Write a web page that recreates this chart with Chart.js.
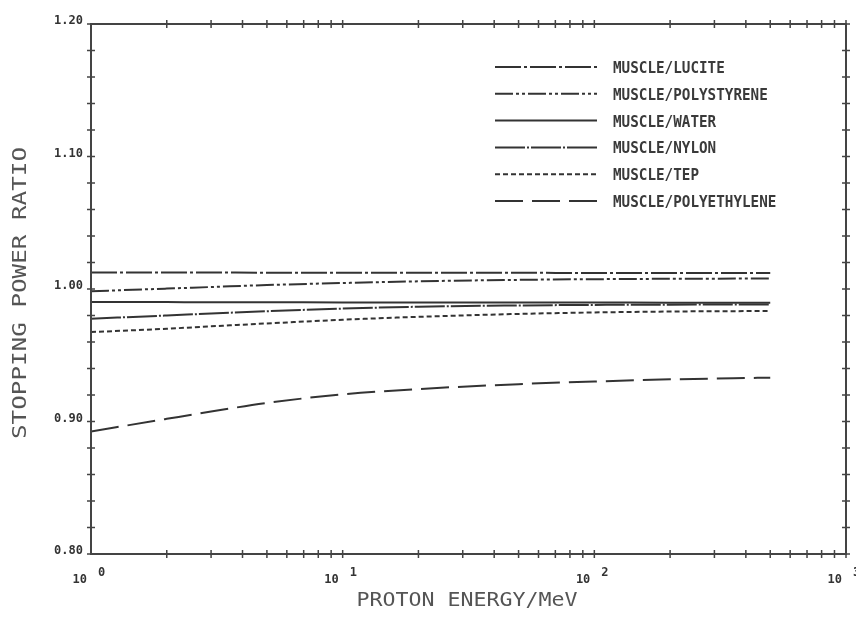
<!DOCTYPE html>
<html>
<head>
<meta charset="utf-8">
<script src="https://cdn.jsdelivr.net/npm/chart.js@4.4.0/dist/chart.umd.min.js"></script>
<style>
html, body { margin: 0; padding: 0; background: #fff; }
#wrap { width: 856px; height: 621px; }
</style>
</head>
<body>
<div id="wrap"><canvas id="spChart" width="856" height="621"></canvas></div>
<script>
// proton energy (MeV) and stopping power ratios
const energies = [1, 2, 3, 5, 10, 20, 50, 100, 200, 500];
const lucite = [1.0124, 1.0124, 1.0124, 1.0123, 1.0123, 1.0122, 1.0122, 1.0121, 1.0121, 1.0121];
const polystyrene = [0.9983, 1.0003, 1.0015, 1.0030, 1.0045, 1.0058, 1.0069, 1.0074, 1.0077, 1.0079];
const water = [0.9902, 0.9901, 0.9900, 0.9900, 0.9899, 0.9899, 0.9898, 0.9898, 0.9897, 0.9897];
const nylon = [0.9776, 0.9800, 0.9815, 0.9832, 0.9852, 0.9866, 0.9876, 0.9880, 0.9882, 0.9883];
const tep = [0.9675, 0.9700, 0.9718, 0.9740, 0.9768, 0.9790, 0.9812, 0.9823, 0.9830, 0.9834];
const polyethylene = [0.8925, 0.9020, 0.9075, 0.9140, 0.9205, 0.9245, 0.9282, 0.9302, 0.9318, 0.9331];

const seriesNames = ['MUSCLE/LUCITE', 'MUSCLE/POLYSTYRENE', 'MUSCLE/WATER', 'MUSCLE/NYLON', 'MUSCLE/TEP', 'MUSCLE/POLYETHYLENE'];
const yTickValues = [0.8, 0.9, 1.0, 1.1, 1.2];
const yTickLabels = ['0.80', '0.90', '1.00', '1.10', '1.20'];
const xDecades = [1, 10, 100, 1000];
const xExponents = ['0', '1', '2', '3'];

const ink = '#333';
const dashes = [[26, 3, 3, 3], [18, 3, 3, 3, 3, 3], [], [30, 2, 2, 2], [5, 3], [28, 9]];
const allSeries = [lucite, polystyrene, water, nylon, tep, polyethylene];

function fitText(ctx, text, x, y, font, width, align) {
    ctx.save();
    ctx.font = font;
    const sx = width / ctx.measureText(text).width;
    ctx.translate(x, y);
    ctx.scale(sx, 1);
    ctx.textAlign = align;
    ctx.fillText(text, 0, 0);
    ctx.restore();
}

const plotterAxes = {
    id: 'plotterAxes',
    afterDraw(chart) {
        const ctx = chart.ctx;
        const a = chart.chartArea;
        const xs = chart.scales.x;
        const ys = chart.scales.y;
        ctx.save();
        ctx.strokeStyle = '#444';
        ctx.lineWidth = 2;
        ctx.strokeRect(a.left, a.top, a.right - a.left, a.bottom - a.top);

        // crossing ticks on all four sides
        ctx.lineWidth = 1.5;
        ctx.beginPath();
        for (let i = 0; i <= 20; i++) {
            const py = ys.getPixelForValue(0.8 + i * 0.02);
            ctx.moveTo(a.left - 4, py); ctx.lineTo(a.left + 4, py);
            ctx.moveTo(a.right - 4, py); ctx.lineTo(a.right + 4, py);
        }
        for (let d = 0; d < 3; d++) {
            for (let k = 2; k <= 10; k++) {
                const px = xs.getPixelForValue(xDecades[d] * k);
                ctx.moveTo(px, a.bottom - 4); ctx.lineTo(px, a.bottom + 4);
                ctx.moveTo(px, a.top - 4); ctx.lineTo(px, a.top + 4);
            }
        }
        ctx.stroke();

        // tick labels
        ctx.fillStyle = ink;
        ctx.font = 'bold 12px "DejaVu Sans Mono"';
        ctx.textAlign = 'right';
        ctx.textBaseline = 'middle';
        yTickValues.forEach((v, i) => {
            ctx.fillText(yTickLabels[i], a.left - 8, ys.getPixelForValue(v) - 3);
        });
        ctx.textBaseline = 'alphabetic';
        xDecades.forEach((v, i) => {
            const px = xs.getPixelForValue(v);
            ctx.textAlign = 'right';
            ctx.fillText('10', px - 4, a.bottom + 29);
            ctx.textAlign = 'left';
            ctx.fillText(xExponents[i], px + 7, a.bottom + 22);
        });

        // axis titles
        ctx.fillStyle = '#555';
        fitText(ctx, 'PROTON ENERGY/MeV', 467, 606, '20px "DejaVu Sans Mono"', 221, 'center');
        ctx.save();
        ctx.translate(26, 293);
        ctx.rotate(-Math.PI / 2);
        fitText(ctx, 'STOPPING POWER RATIO', 0, 0, '20px "DejaVu Sans Mono"', 292, 'center');
        ctx.restore();

        // legend
        chart.data.datasets.forEach((ds, i) => {
            const ly = 67 + i * 26.8;
            ctx.strokeStyle = ink;
            ctx.lineWidth = 2;
            ctx.setLineDash(ds.borderDash);
            ctx.beginPath();
            ctx.moveTo(495, ly);
            ctx.lineTo(597, ly);
            ctx.stroke();
            ctx.setLineDash([]);
            ctx.fillStyle = '#3a3a3a';
            fitText(ctx, ds.label, 613, ly + 6, 'bold 15px "DejaVu Sans Mono"', ds.label.length * 8.6, 'left');
        });
        ctx.restore();
    }
};

const chart = new Chart(document.getElementById('spChart').getContext('2d'), {
    type: 'line',
    data: {
        labels: energies,
        datasets: allSeries.map((vals, i) => ({
            label: seriesNames[i],
            data: energies.map((e, j) => ({ x: e, y: vals[j] })),
            borderColor: ink,
            borderWidth: 2,
            borderDash: dashes[i],
            pointRadius: 0,
            cubicInterpolationMode: 'monotone',
            fill: false
        }))
    },
    options: {
        responsive: false,
        animation: false,
        devicePixelRatio: 1,
        layout: { padding: { left: 91, right: 10, top: 24, bottom: 67 } },
        plugins: { legend: { display: false }, tooltip: { enabled: false } },
        scales: {
            x: { type: 'logarithmic', min: 1, max: 1000, display: false },
            y: { type: 'linear', min: 0.8, max: 1.2, display: false }
        }
    },
    plugins: [plotterAxes]
});
</script>
</body>
</html>
